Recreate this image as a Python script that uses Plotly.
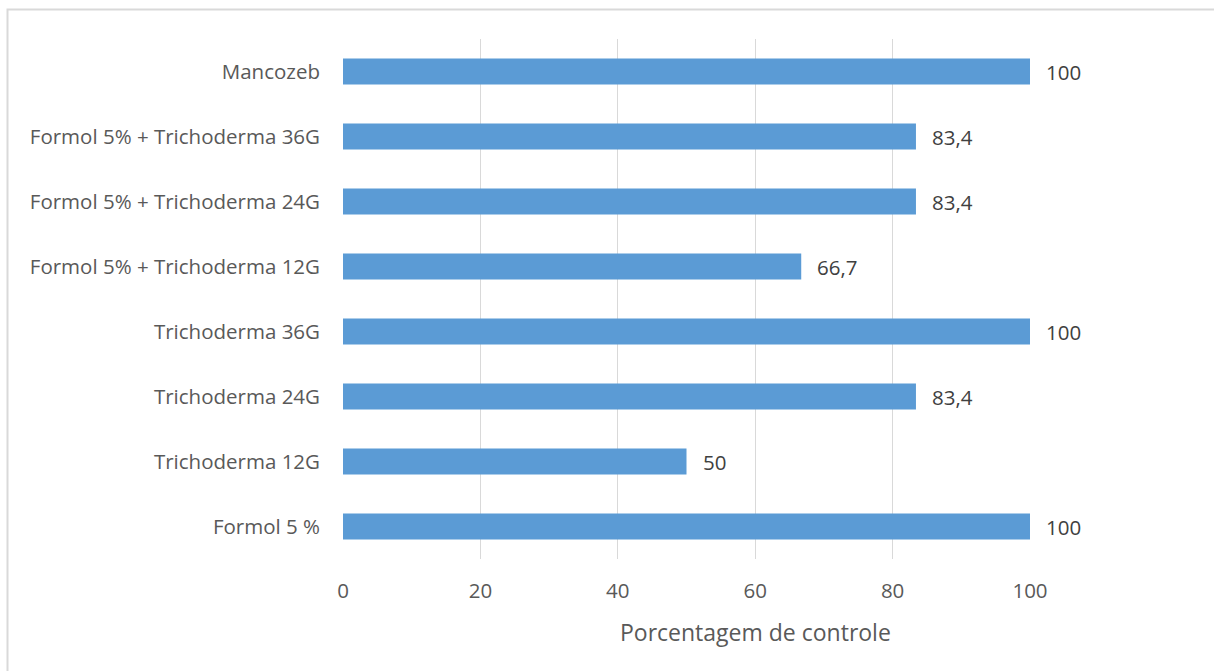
import plotly.graph_objects as go

categories = ["Formol 5 %", "Trichoderma 12G", "Trichoderma 24G", "Trichoderma 36G",
              "Formol 5% + Trichoderma 12G", "Formol 5% + Trichoderma 24G",
              "Formol 5% + Trichoderma 36G", "Mancozeb"]
values = [100, 50, 83.4, 100, 66.7, 83.4, 83.4, 100]
value_labels = ["100", "50", "83,4", "100", "66,7", "83,4", "83,4", "100"]
tick_vals = [0, 20, 40, 60, 80, 100]
axis_title = "Porcentagem de controle"

FONT = "Open Sans"
TXT = "#595959"
GRID = "#D9D9D9"

fig = go.Figure()
fig.add_trace(go.Bar(
    y=categories, x=values, orientation="h",
    marker=dict(color="#5B9BD5", line=dict(width=0)),
    width=0.4, hoverinfo="skip",
))

for c, v, t in zip(categories, values, value_labels):
    fig.add_annotation(x=v, y=c, text=t, xref="x", yref="y", xanchor="left",
                       yanchor="middle", xshift=14, showarrow=False,
                       font=dict(family=FONT, size=20.5, color="#404040"))

fig.add_annotation(x=0.6004, y=-0.1404, xref="paper", yref="paper", text=axis_title,
                   showarrow=False, xanchor="center", yanchor="middle",
                   font=dict(family=FONT, size=23, color=TXT))

# chart area border
fig.add_shape(type="rect", xref="paper", yref="paper",
              x0=(7.5 - 343) / 687, x1=(1230 - 343) / 687,
              y0=(559 - 690) / 520, y1=(559 - 9.5) / 520,
              line=dict(color=GRID, width=2), fillcolor="rgba(0,0,0,0)", layer="below")

fig.update_layout(
    width=1214, height=671,
    margin=dict(l=343, r=184, t=39, b=112),
    paper_bgcolor="white", plot_bgcolor="white",
    showlegend=False,
    font=dict(family=FONT, color=TXT),
    xaxis=dict(range=[0, 100], tickvals=tick_vals, showgrid=True, gridcolor=GRID,
               gridwidth=1, zeroline=False, showline=False, ticks="",
               tickfont=dict(size=20.5, color=TXT), ticklabelstandoff=17, fixedrange=True),
    yaxis=dict(categoryorder="array", categoryarray=categories, range=[-0.5, 7.5],
               showgrid=False, zeroline=False, showline=False, ticks="",
               tickfont=dict(size=20.5, color=TXT), ticklabelstandoff=22, fixedrange=True),
)

fig.write_html("out.html")
